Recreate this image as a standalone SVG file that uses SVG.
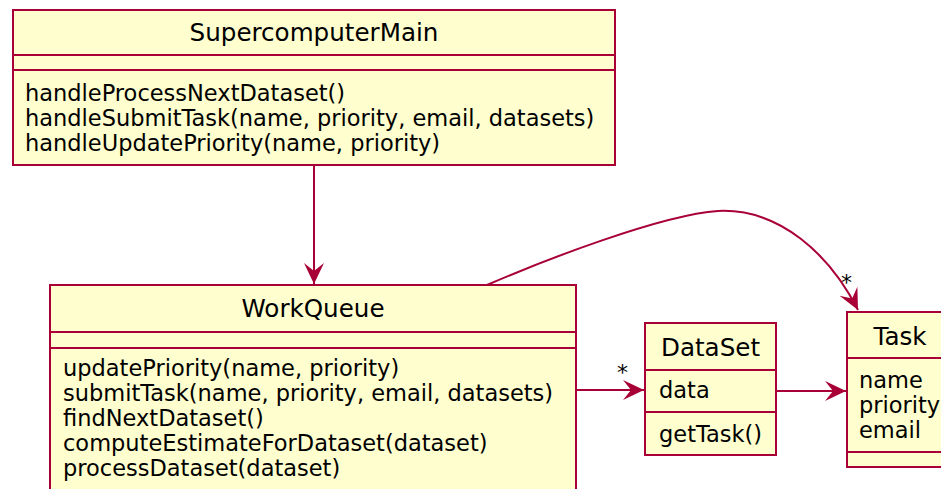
<svg xmlns="http://www.w3.org/2000/svg" width="941" height="489" viewBox="0 0 941 489">
<style>
.box{fill:#FEFECE;stroke:#A80036;stroke-width:2}
.sep{stroke:#A80036;stroke-width:2}
.title{font-family:"DejaVu Sans",sans-serif;font-size:24.6px;fill:#000;text-anchor:middle}
.mem{font-family:"DejaVu Sans",sans-serif;font-size:22.5px;fill:#000}
.conn{fill:none;stroke:#A80036;stroke-width:2}
.lbl{font-family:"DejaVu Sans",sans-serif;font-size:22px;fill:#000}
</style>
<defs>
<marker id="arr" viewBox="-22 -11 24 22" markerWidth="24" markerHeight="22" refX="0" refY="0" orient="auto" markerUnits="userSpaceOnUse">
<path d="M0,0 L-21,-10 L-13,0 L-21,10 Z" fill="#A80036"/>
</marker>
</defs>
<rect width="941" height="489" fill="#FFFFFF"/>
<g id="SupercomputerMain">
<rect class="box" x="13" y="10" width="602" height="155"/>
<line class="sep" x1="13" y1="55" x2="615" y2="55"/>
<line class="sep" x1="13" y1="70" x2="615" y2="70"/>
<text class="title" x="314" y="41">SupercomputerMain</text>
<text class="mem" x="25" y="101">handleProcessNextDataset()</text>
<text class="mem" x="25" y="126">handleSubmitTask(name, priority, email, datasets)</text>
<text class="mem" x="25" y="151">handleUpdatePriority(name, priority)</text>
</g>
<g id="WorkQueue">
<rect class="box" x="50" y="285" width="526" height="215"/>
<line class="sep" x1="50" y1="332" x2="576" y2="332"/>
<line class="sep" x1="50" y1="348" x2="576" y2="348"/>
<text class="title" x="313" y="317">WorkQueue</text>
<text class="mem" x="63" y="376">updatePriority(name, priority)</text>
<text class="mem" x="63" y="401">submitTask(name, priority, email, datasets)</text>
<text class="mem" x="63" y="426">findNextDataset()</text>
<text class="mem" x="63" y="451">computeEstimateForDataset(dataset)</text>
<text class="mem" x="63" y="476">processDataset(dataset)</text>
</g>
<g id="DataSet">
<rect class="box" x="645" y="323" width="131" height="132"/>
<line class="sep" x1="645" y1="370" x2="776" y2="370"/>
<line class="sep" x1="645" y1="412" x2="776" y2="412"/>
<text class="title" x="710.5" y="356">DataSet</text>
<text class="mem" x="659" y="398">data</text>
<text class="mem" x="659" y="442">getTask()</text>
</g>
<g id="Task">
<rect class="box" x="847" y="312" width="106" height="155"/>
<line class="sep" x1="847" y1="358" x2="953" y2="358"/>
<line class="sep" x1="847" y1="452" x2="953" y2="452"/>
<text class="title" x="900" y="345">Task</text>
<text class="mem" x="859" y="388">name</text>
<text class="mem" x="859" y="413">priority</text>
<text class="mem" x="859" y="438">email</text>
</g>
<g id="connectors">
<line class="conn" x1="314" y1="165" x2="314" y2="284" marker-end="url(#arr)"/>
<line class="conn" x1="576" y1="390" x2="644" y2="390" marker-end="url(#arr)"/>
<line class="conn" x1="776" y1="391" x2="846" y2="391" marker-end="url(#arr)"/>
<path class="conn" d="M487,285 C540,262 660,215 718,211 C780,208 830,255 858,310" marker-end="url(#arr)"/>
<text class="lbl" x="617" y="380">*</text>
<text class="lbl" x="841" y="290">*</text>
</g>
</svg>
